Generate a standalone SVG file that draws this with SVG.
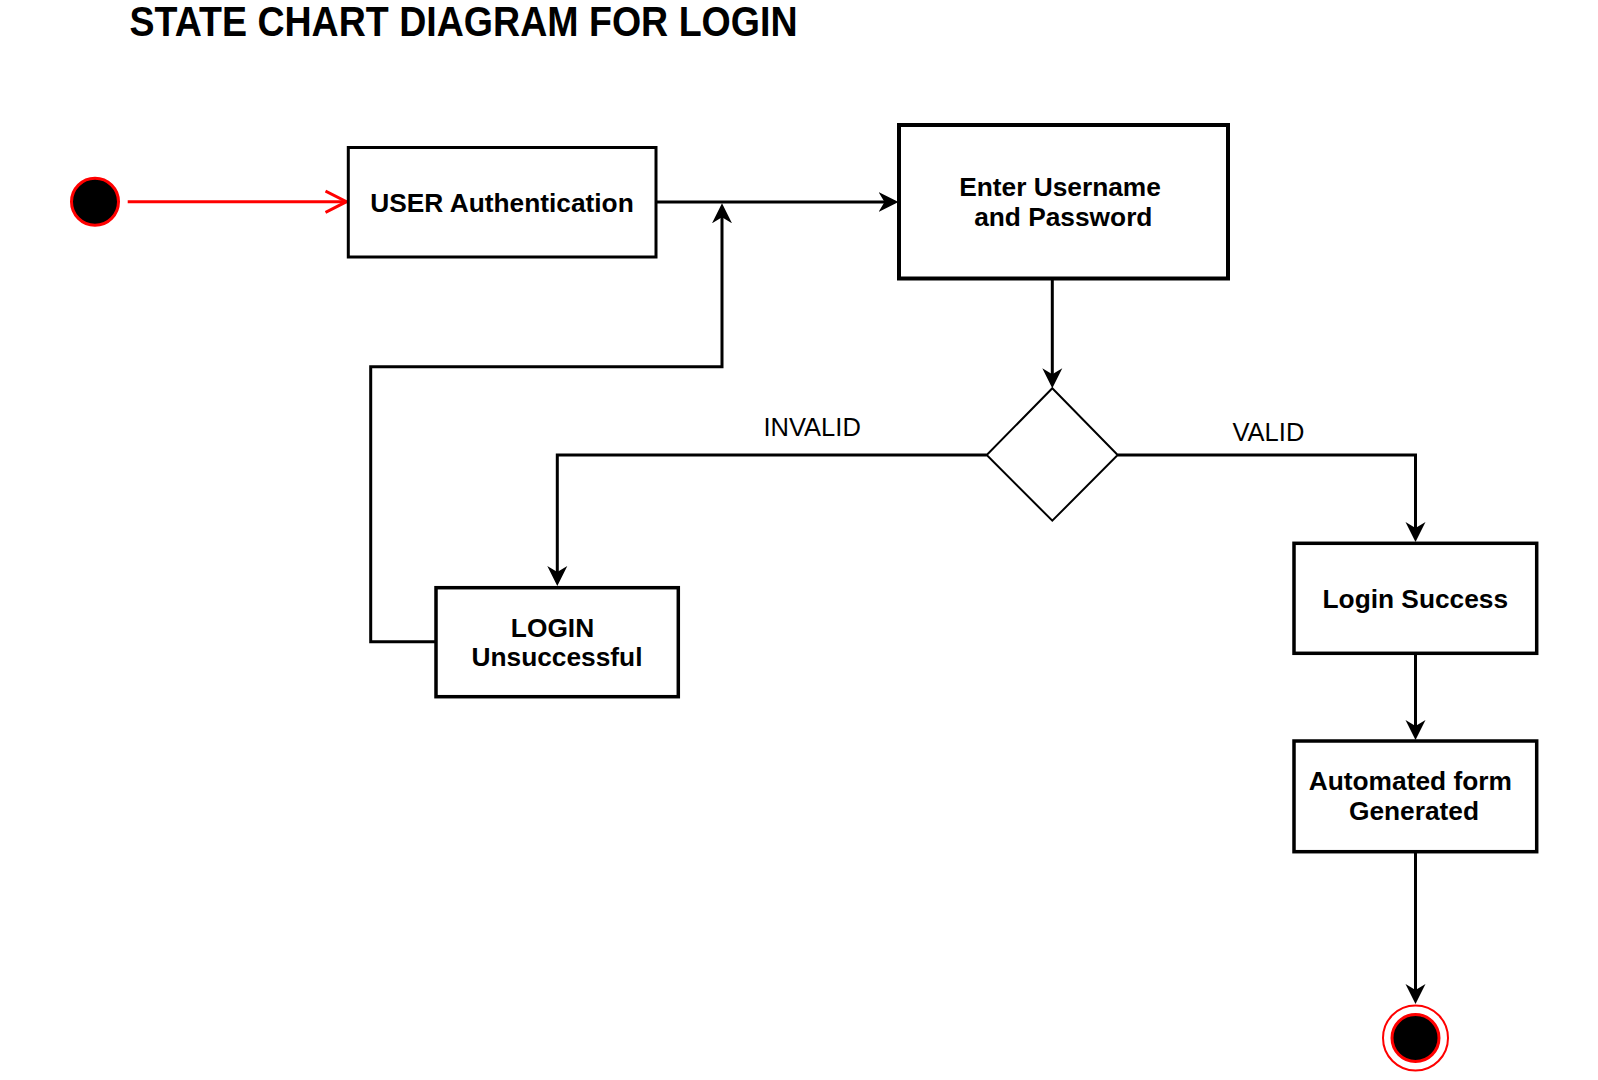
<svg xmlns="http://www.w3.org/2000/svg" width="1598" height="1080" viewBox="0 0 1598 1080">
  <defs>
    <style>
      .box { fill: #ffffff; stroke: #000000; stroke-width: 3.5; }
      .lbl { font-family: "Liberation Sans", Arial, sans-serif; font-weight: bold; font-size: 26.3px; fill: #000000; text-anchor: middle; }
      .edge { fill: none; stroke: #000000; stroke-width: 3; }
      .elbl { font-family: "Liberation Sans", Arial, sans-serif; font-size: 25.5px; fill: #000000; }
      .title { font-family: "Liberation Sans", Arial, sans-serif; font-weight: bold; font-size: 42px; fill: #000000; }
    </style>
    <marker id="arrow" markerUnits="userSpaceOnUse" markerWidth="24" markerHeight="24" viewBox="0 0 24 24" refX="16" refY="12" orient="auto">
      <path d="M0,2 L20,12 L0,22 L6,12 Z" fill="#000000"/>
    </marker>
    <marker id="openRed" markerUnits="userSpaceOnUse" markerWidth="26" markerHeight="26" viewBox="0 0 26 26" refX="22" refY="13" orient="auto">
      <path d="M1,2.3 L22,13 L1,23.7" fill="none" stroke="#ff0000" stroke-width="3"/>
    </marker>
  </defs>
  <rect x="0" y="0" width="1598" height="1080" fill="#ffffff"/>

  <text class="title" x="129.5" y="36" textLength="668" lengthAdjust="spacingAndGlyphs">STATE CHART DIAGRAM FOR LOGIN</text>

  <g id="connectors">
    <path class="edge" d="M127.7,201.7 H346.5" style="stroke:#ff0000" marker-end="url(#openRed)"/>
    <path class="edge" d="M656,202 H894.5" marker-end="url(#arrow)"/>
    <path class="edge" d="M436,641.7 H370.7 V366.7 H722 V207.3" marker-end="url(#arrow)"/>
    <path class="edge" d="M1052.3,279 V384.3" marker-end="url(#arrow)"/>
    <path class="edge" d="M986.7,455 H557.3 V582" marker-end="url(#arrow)"/>
    <path class="edge" d="M1117.7,455 H1415.5 V538" marker-end="url(#arrow)"/>
    <path class="edge" d="M1415.5,653.3 V736" marker-end="url(#arrow)"/>
    <path class="edge" d="M1415.5,851.7 V1000" marker-end="url(#arrow)"/>
    <text class="elbl" x="763.5" y="436">INVALID</text>
    <text class="elbl" x="1232.5" y="441">VALID</text>
  </g>

  <g id="start">
    <circle cx="95" cy="201.7" r="23.5" fill="#000000" stroke="#ff0000" stroke-width="3"/>
  </g>

  <g id="user-auth">
    <rect class="box" x="348.3" y="147.5" width="307.7" height="109.5" style="stroke-width:3"/>
    <text class="lbl" x="502" y="211.7">USER Authentication</text>
  </g>

  <g id="enter-credentials">
    <rect class="box" x="899" y="125" width="329" height="153.5" style="stroke-width:4"/>
    <text class="lbl" x="1060" y="196">Enter Username</text>
    <text class="lbl" x="1063.3" y="226">and Password</text>
  </g>

  <g id="decision">
    <polygon points="1052.3,388.3 1117.7,455 1052.3,520.7 986.7,455" fill="#ffffff" stroke="#000000" stroke-width="2"/>
  </g>

  <g id="login-unsuccessful">
    <rect class="box" x="436" y="587.7" width="242.3" height="109"/>
    <text class="lbl" x="552.5" y="636.7">LOGIN</text>
    <text class="lbl" x="557" y="666">Unsuccessful</text>
  </g>

  <g id="login-success">
    <rect class="box" x="1294" y="543.3" width="242.7" height="110"/>
    <text class="lbl" x="1415.3" y="608.3">Login Success</text>
  </g>

  <g id="automated-form">
    <rect class="box" x="1294" y="741" width="242.7" height="110.7"/>
    <text class="lbl" x="1410.3" y="790">Automated form</text>
    <text class="lbl" x="1414" y="820">Generated</text>
  </g>

  <g id="end">
    <circle cx="1415.5" cy="1038" r="32.5" fill="#ffffff" stroke="#ff0000" stroke-width="2"/>
    <circle cx="1415.5" cy="1038" r="23.5" fill="#000000" stroke="#ff0000" stroke-width="3"/>
  </g>
</svg>
